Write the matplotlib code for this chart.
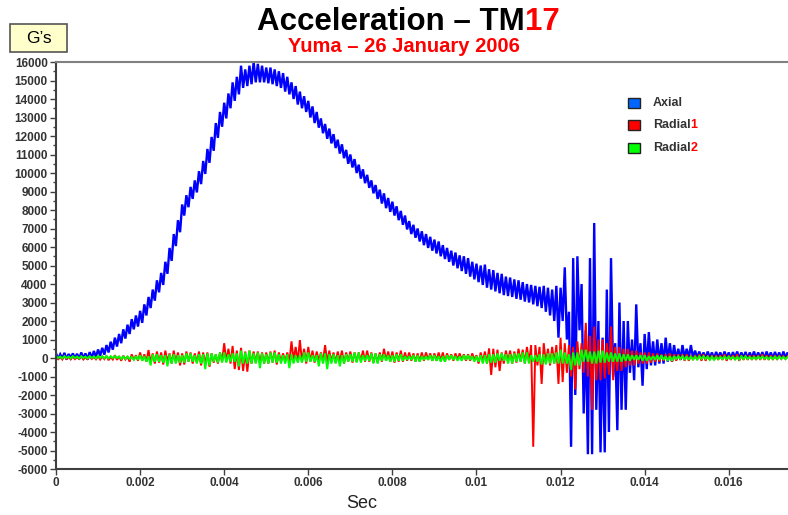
import numpy as np
import matplotlib
matplotlib.use("Agg")
import matplotlib.pyplot as plt
from matplotlib.patches import Rectangle
from matplotlib.ticker import MultipleLocator, FuncFormatter

plt.rcParams['font.family'] = ['Liberation Sans', 'DejaVu Sans']

# the traces are very noisy, so for every 0.1 ms slice of the record
# the top and bottom of the trace were read off the plot (G's)
DT = 0.0001

axial_hi = [
    250, 200, 280, 220, 250, 230, 300, 250, 320, 380,
    460, 550, 700, 880, 1100, 1300, 1550, 1800, 2100, 2300,
    2550, 2900, 3300, 3700, 4200, 4600, 5200, 5950, 6700, 7450,
    8300, 8800, 9250, 9600, 10100, 10650, 11300, 11950, 12700, 13300,
    13800, 14300, 14900, 15200, 15800, 15600, 15800, 16000, 15900, 15800,
    15700, 15700, 15600, 15500, 15400, 15200, 14900, 14700, 14400, 14150,
    13900, 13600, 13300, 12950, 12650, 12400, 12100, 11800, 11550, 11250,
    11000, 10750, 10450, 10200, 9900, 9600, 9350, 9100, 8900, 8650,
    8450, 8200, 7950, 7700, 7400, 7200, 7000, 6850, 6700, 6550,
    6400, 6300, 6100, 5950, 5800, 5700, 5550, 5500, 5400, 5200,
    5100, 5000, 5050, 4800, 4750, 4600, 4550, 4400, 4350, 4250,
    4200, 4100, 4000, 3950, 3900, 3850, 3900, 3800, 3700, 3900,
    3800, 4900, 2500, 5400, 5500, 4000, 1500, 5400, 7300, 2000,
    1100, 3700, 5400, 800, 3000, 2000, 2000, 1000, 2900, 800,
    1300, 1400, 900, 1000, 800, 1100, 800, 700, 500, 700,
    500, 700, 400, 350, 300, 350, 300, 330, 300, 350,
    300, 320, 350, 300, 330, 300, 350, 300, 320, 350,
    300, 330, 300, 350, 300,
]
axial_lo = [
    -50, -20, -80, 0, -30, -60, -20, -80, 0, 50,
    120, 180, 300, 450, 620, 800, 1050, 1300, 1550, 1700,
    1900, 2300, 2700, 3100, 3550, 3950, 4550, 5250, 6050, 6800,
    7700, 8150, 8600, 8950, 9400, 9950, 10550, 11200, 11900, 12500,
    12950, 13500, 13900, 14250, 14600, 14700, 14800, 14900, 14900, 14900,
    14850, 14800, 14700, 14600, 14400, 14250, 14000, 13700, 13500, 13300,
    13000, 12700, 12450, 12150, 11850, 11600, 11350, 11050, 10800, 10500,
    10300, 10000, 9700, 9450, 9200, 8900, 8600, 8350, 8100, 7900,
    7700, 7450, 7200, 6950, 6700, 6500, 6300, 6100, 5950, 5800,
    5650, 5500, 5350, 5200, 5000, 4850, 4700, 4550, 4400, 4250,
    4100, 3950, 3800, 3700, 3600, 3500, 3400, 3350, 3300, 3200,
    3150, 3050, 3000, 2900, 2800, 2700, 2500, 2300, 2000, 1100,
    2000, 1000, -4800, -2000, 1500, -3000, -5200, -5200, -2800, -5100,
    -5100, -4000, -1000, -3900, -2800, -2800, -800, -1200, -500, -1500,
    -600, -400, -400, -300, -300, -200, -200, -100, -100, 0,
    0, 0, 0, 0, -20, 0, -50, 20, -30, 0,
    -50, 0, -20, 0, -40, 0, -20, 0, -50, 0,
    -20, 0, -40, 0, -20,
]

radial1_hi = [
    80, 60, 100, 50, 80, 60, 90, 50, 80, 60,
    100, 80, 120, 60, 150, 100, 130, 90, 200, 150,
    300, 200, 430, 250, 350, 300, 400, 250, 400, 300,
    250, 350, 300, 250, 350, 300, 300, 250, 200, 300,
    800, 500, 650, 400, 550, 350, 400, 350, 350, 300,
    300, 350, 400, 300, 250, 300, 900, 600, 970, 500,
    600, 400, 350, 300, 700, 400, 300, 350, 400, 300,
    350, 300, 300, 400, 400, 300, 250, 300, 500, 350,
    350, 300, 400, 300, 300, 250, 250, 300, 300, 250,
    250, 300, 300, 250, 200, 250, 250, 200, 200, 250,
    150, 300, 350, 520, 500, 450, 300, 400, 400, 350,
    500, 450, 600, 700, 700, 600, 800, 500, 600, 700,
    1100, 800, 700, 600, 900, 800, 1900, 1200, 1700, 1000,
    1000, 800, 1700, 600, 600, 500, 500, 400, 400, 300,
    300, 300, 250, 250, 200, 200, 250, 200, 200, 200,
    200, 150, 150, 200, 200, 150, 150, 150, 150, 200,
    150, 150, 200, 150, 150, 150, 150, 150, 200, 150,
    150, 150, 150, 100, 100,
]
radial1_lo = [
    -60, -80, -50, -70, -60, -50, -80, -60, -50, -70,
    -80, -60, -120, -80, -100, -150, -80, -200, -100, -150,
    -150, -200, -250, -300, -250, -350, -200, -300, -250, -400,
    -350, -200, -300, -250, -400, -300, -470, -250, -300, -200,
    -200, -300, -600, -650, -700, -740, -300, -250, -250, -300,
    -300, -250, -350, -200, -200, -250, -100, -200, -200, -300,
    -200, -250, -150, -200, -250, -200, -250, -200, -300, -200,
    -250, -200, -150, -200, -200, -250, -250, -200, -150, -200,
    -250, -200, -200, -150, -150, -200, -200, -150, -100, -150,
    -150, -150, -200, -100, -150, -100, -100, -150, -150, -100,
    -300, -200, -300, -920, -500, -700, -300, -200, -300, -250,
    -200, -300, -250, -4800, -400, -1400, -300, -400, -300, -1400,
    -1300, -800, -1000, -1700, -600, -800, -1000, -2800, -1200, -1200,
    -1100, -900, -1200, -700, -700, -500, -400, -400, -300, -300,
    -300, -250, -200, -200, -150, -150, -200, -150, -100, -150,
    -150, -100, -100, -150, -150, -100, -100, -100, -100, -150,
    -100, -100, -150, -100, -100, -100, -100, -100, -100, -100,
    -100, -100, -50, -50, -50,
]

radial2_hi = [
    100, 80, 100, 80, 100, 80, 100, 80, 100, 80,
    120, 100, 100, 100, 100, 80, 80, 80, 60, 100,
    150, 100, 100, 200, 200, 150, 150, 200, 200, 150,
    150, 250, 250, 150, 200, 200, 250, 250, 200, 300,
    300, 200, 250, 250, 400, 300, 400, 250, 300, 250,
    200, 300, 300, 200, 150, 200, 200, 150, 150, 300,
    300, 150, 150, 250, 250, 200, 200, 150, 150, 200,
    200, 300, 300, 150, 150, 250, 250, 200, 200, 150,
    150, 200, 200, 100, 100, 150, 150, 100, 100, 150,
    150, 100, 100, 150, 150, 100, 100, 150, 150, 100,
    100, 150, 150, 200, 200, 250, 250, 200, 200, 250,
    250, 300, 300, 150, 150, 200, 200, 250, 250, 300,
    450, 300, 200, 300, 300, 450, 450, 350, 350, 400,
    400, 300, 300, 250, 250, 200, 200, 150, 150, 150,
    150, 100, 100, 150, 150, 100, 100, 100, 100, 100,
    100, 80, 80, 100, 100, 80, 80, 60, 60, 80,
    80, 60, 60, 100, 100, 60, 60, 80, 80, 60,
    60, 80, 80, 60, 60,
]
radial2_lo = [
    0, -20, 0, -20, 0, -20, 0, -20, 0, -20,
    0, -20, -20, 0, 0, -50, -50, -50, -100, -100,
    -150, -200, -400, -200, -200, -250, -450, -300, -300, -250,
    -250, -200, -200, -300, -300, -600, -400, -200, -250, -250,
    -250, -200, -200, -450, -300, -300, -300, -300, -550, -300,
    -300, -250, -250, -300, -300, -550, -300, -250, -250, -200,
    -200, -200, -450, -300, -600, -300, -300, -450, -300, -200,
    -200, -250, -250, -150, -150, -300, -300, -150, -150, -200,
    -200, -150, -150, -100, -100, -200, -200, -100, -100, -150,
    -150, -200, -200, -100, -100, -150, -150, -100, -100, -200,
    -200, -300, -300, -250, -250, -150, -150, -300, -300, -200,
    -200, -300, -300, -200, -200, -350, -350, -300, -300, -300,
    -300, -300, -650, -400, -400, -200, -200, -300, -300, -250,
    -250, -200, -200, -200, -200, -150, -150, -100, -100, -150,
    -150, -100, -100, -100, -100, -150, -150, -50, -50, -100,
    -100, -80, -80, -50, -50, -100, -100, -60, -60, -50,
    -50, -80, -80, -50, -50, -60, -60, -40, -40, -60,
    -60, -50, -50, -60, -60,
]

series_names = ['Axial', 'Radial', 'Radial']
series_suffix = ['', '1', '2']
line_colors = ['#0000ff', '#ff0000', '#00ff00']
line_widths = [1.7, 1.4, 1.4]
legend_colors = ['#0066ff', '#ff0000', '#00ff00']


def zigzag(hi, lo):
    # trace goes top -> bottom inside each slice, like the raw samples do
    n = len(hi)
    tt = np.repeat(np.arange(n) * DT, 2) + np.tile([0, DT / 2], n)
    vv = np.column_stack([hi, lo]).ravel()
    return tt, vv


fig = plt.figure(figsize=(7.88, 5.15), dpi=100)
ax = fig.add_axes([0.0711, 0.0893, 0.93, 0.7903])

for (hi, lo), c, w in zip([(axial_hi, axial_lo), (radial1_hi, radial1_lo),
                           (radial2_hi, radial2_lo)], line_colors, line_widths):
    tt, vv = zigzag(hi, lo)
    ax.plot(tt, vv, color=c, lw=w, solid_joinstyle='miter')

ax.set_xlim(0, 0.01743)
ax.set_ylim(-6000, 16000)
ax.yaxis.set_major_locator(MultipleLocator(1000))
ax.yaxis.set_minor_locator(MultipleLocator(500))
ax.xaxis.set_major_locator(MultipleLocator(0.002))
ax.xaxis.set_major_formatter(FuncFormatter(lambda v, p: '%g' % round(v, 4)))
ax.yaxis.set_major_formatter(FuncFormatter(lambda v, p: '%d' % v))

ax.spines['right'].set_visible(False)
ax.spines['top'].set_color('#808080')
ax.spines['top'].set_linewidth(1.5)
for s in ['left', 'bottom']:
    ax.spines[s].set_color('#404040')
    ax.spines[s].set_linewidth(1.5)
ax.tick_params(which='major', length=4, width=1, color='#404040',
               labelsize=8.5, labelcolor='#333333', pad=2)
ax.tick_params(which='minor', length=2.5, width=1, color='#404040')
for lab in ax.get_xticklabels() + ax.get_yticklabels():
    lab.set_fontweight('bold')

# titles
fig.text(0.6662, 0.9417, 'Acceleration \u2013 TM', ha='right', va='baseline',
         fontsize=22.5, fontweight='bold', color='black')
fig.text(0.6662, 0.9417, '17', ha='left', va='baseline',
         fontsize=22.5, fontweight='bold', color='#ff0000')
fig.text(0.513, 0.9, 'Yuma \u2013 26 January 2006', ha='center', va='baseline',
         fontsize=14.5, fontweight='bold', color='#ff0000')
fig.text(0.459, 0.0233, 'Sec', ha='center', va='center', fontsize=13, color='#222222')

# G's box
fig.add_artist(Rectangle((0.0127, 0.899), 0.0723, 0.0544, transform=fig.transFigure,
                         facecolor='#ffffcc', edgecolor='#555555', lw=1.2))
fig.text(0.0488, 0.926, 'G\u2019s', ha='center', va='center', fontsize=12.5, color='black')

# legend
fig.canvas.draw()
rend = fig.canvas.get_renderer()
for k in range(3):
    ytop = 98 + k * 22.5
    fig.add_artist(Rectangle((628 / 788, 1 - (ytop + 10) / 515), 12 / 788, 10 / 515,
                             transform=fig.transFigure, facecolor=legend_colors[k],
                             edgecolor='#222222', lw=1))
    txt = fig.text(653 / 788, 1 - (ytop + 5) / 515, series_names[k], ha='left',
                   va='center', fontsize=9, fontweight='bold', color='#333333')
    if series_suffix[k]:
        bb = txt.get_window_extent(rend)
        fig.text(bb.x1 / fig.bbox.width, 1 - (ytop + 5) / 515, series_suffix[k],
                 ha='left', va='center', fontsize=9, fontweight='bold', color='#ff0000')

fig.savefig('out.png', dpi=100)
